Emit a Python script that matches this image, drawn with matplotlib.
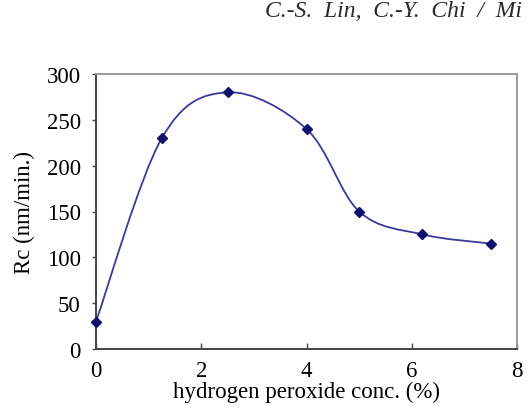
import matplotlib.pyplot as plt
import numpy as np
from matplotlib.path import Path
from matplotlib.patches import PathPatch


# ============================================================
# DATOS
# ============================================================

concentracion = [0.0, 1.25, 2.5, 4.0, 5.0, 6.2, 7.5]
rc = [30, 230, 280, 240, 150, 125, 115]

x_ticks = [0, 2, 4, 6, 8]
y_ticks = [0, 50, 100, 150, 200, 250, 300]

plt.rcParams.update({
    "font.family": "Liberation Serif",
    "font.size": 16.5,
})


# ============================================================
# CURVA SUAVIZADA (estilo Excel, Bezier tipo Catmull-Rom)
# ============================================================

def curva_suave(xs, ys, tension=1 / 6):
    pts = np.column_stack([xs, ys]).astype(float)
    n = len(pts)
    verts = [pts[0]]
    codes = [Path.MOVETO]
    for i in range(n - 1):
        p0 = pts[i - 1] if i > 0 else pts[i]
        p1 = pts[i]
        p2 = pts[i + 1]
        p3 = pts[i + 2] if i + 2 < n else pts[i + 1]
        c1 = p1 + (p2 - p0) * tension
        c2 = p2 - (p3 - p1) * tension
        verts += [c1, c2, p2]
        codes += [Path.CURVE4] * 3
    return Path(verts, codes)


fig = plt.figure(figsize=(5.28, 4.14), dpi=100)
ax = fig.add_axes([96 / 528, 1 - 350 / 414, (517 - 96) / 528, (350 - 75) / 414])

ax.add_patch(PathPatch(curva_suave(concentracion, rc), facecolor="none",
                       edgecolor="#3a3a9a", linewidth=1.3))
ax.plot(concentracion, rc, linestyle="none", marker="D", markersize=5,
        color="#10106e", clip_on=False, zorder=3)

ax.set_xlim(0, 8)
ax.set_ylim(0, 300)
ax.set_xticks(x_ticks)
ax.set_yticks(y_ticks)

ax.tick_params(axis="x", direction="in", length=4, width=1, color="#444444", pad=8)
ax.tick_params(axis="y", direction="out", length=3, width=1, color="#444444", pad=8)

for lado in ["left", "bottom"]:
    ax.spines[lado].set_color("#444444")
    ax.spines[lado].set_linewidth(1.4)
for lado in ["top", "right"]:
    ax.spines[lado].set_color("#9a9a9a")
    ax.spines[lado].set_linewidth(1.4)

ax.set_xlabel("hydrogen peroxide conc. (%)", labelpad=0)
ax.set_ylabel("Rc (nm/min.)", labelpad=8)

fig.text(265 / 528, 1 - 17 / 414, "C.-S.  Lin,  C.-Y.  Chi  /  Mi",
         fontsize=17, style="italic", ha="left", va="baseline", color="#2a2a2a")

fig.savefig("out.png", dpi=100)
